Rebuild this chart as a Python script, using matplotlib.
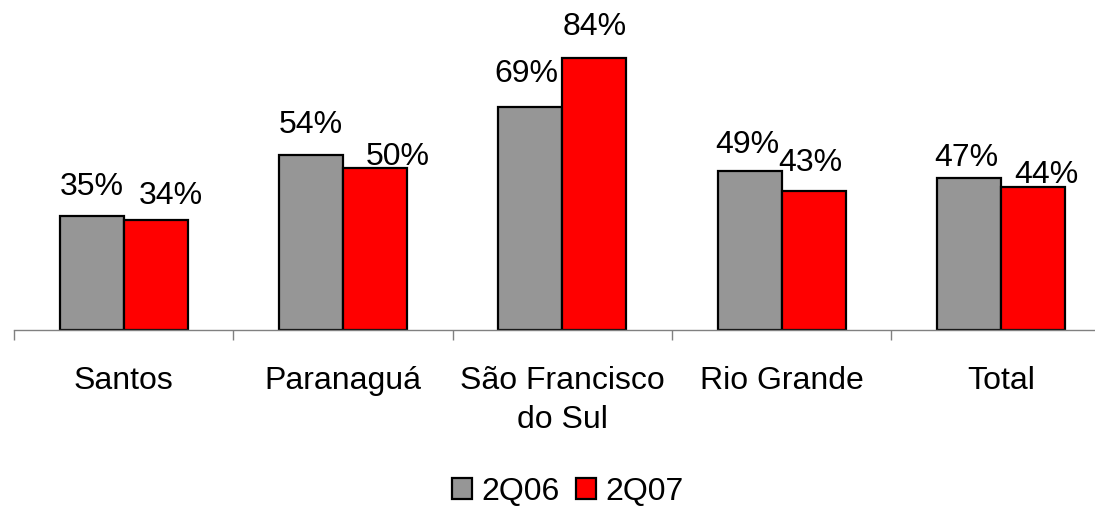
import matplotlib
matplotlib.use("Agg")
import matplotlib.pyplot as plt
import numpy as np

categories = ["Santos", "Paranaguá", "São Francisco\ndo Sul", "Rio Grande", "Total"]
series_names = ["2Q06", "2Q07"]
values_2q06 = [35, 54, 69, 49, 47]
values_2q07 = [34, 50, 84, 43, 44]

# label offsets in pixels (dx, baseline gap above bar top)
offs_2q06 = [(0, 21), (0, 22), (-4, 25), (-2, 18), (-3, 12)]
offs_2q07 = [(15, 16), (23, 3), (0, 23), (-3, 20), (14, 4)]

plt.rcParams['font.family'] = ['Liberation Sans', 'DejaVu Sans']
FS = 23

W, H = 1095, 507
fig = plt.figure(figsize=(W / 100, H / 100), dpi=100)
left_px, base_px = 14, 329.5
ax = fig.add_axes([left_px / W, (H - base_px) / H, (W - left_px) / W, base_px / H])

x = np.arange(len(categories))
bw = 0.292
b1 = ax.bar(x - bw / 2, values_2q06, bw, color="#969696", edgecolor="black", linewidth=1.6, label=series_names[0])
b2 = ax.bar(x + bw / 2, values_2q07, bw, color="#FF0000", edgecolor="black", linewidth=1.6, label=series_names[1])

ax.set_xlim(-0.5, -0.5 + (W - left_px) / 219.3)
ax.set_ylim(0, base_px / 3.23)

for bars, vals, offs in ((b1, values_2q06, offs_2q06), (b2, values_2q07, offs_2q07)):
    for r, v, (dx, dy) in zip(bars, vals, offs):
        ax.annotate(f"{v}%", (r.get_x() + r.get_width() / 2, v), xytext=(dx, dy),
                    textcoords="offset pixels", ha="center", va="baseline", fontsize=FS)

for s in ["top", "right", "left"]:
    ax.spines[s].set_visible(False)
ax.spines["bottom"].set_color("#808080")
ax.spines["bottom"].set_linewidth(1)
ax.set_yticks([])
ax.set_xticks(np.arange(len(categories)) - 0.5)
ax.set_xticklabels([])
ax.tick_params(axis="x", which="major", direction="out", length=7.5, width=1, color="#808080")
ax.set_xticks(x, minor=True)
ax.set_xticklabels(categories, minor=True, fontsize=FS, linespacing=1.42)
ax.tick_params(axis="x", which="minor", length=0, pad=26)

fig.legend(handles=[b1, b2], labels=series_names, loc="center", bbox_to_anchor=(568 / W, 1 - 492 / H),
           ncol=2, frameon=False, fontsize=FS, handlelength=0.62, handleheight=0.62,
           handletextpad=0.3, columnspacing=0.5, borderpad=0)

fig.savefig("out.png", dpi=100)
